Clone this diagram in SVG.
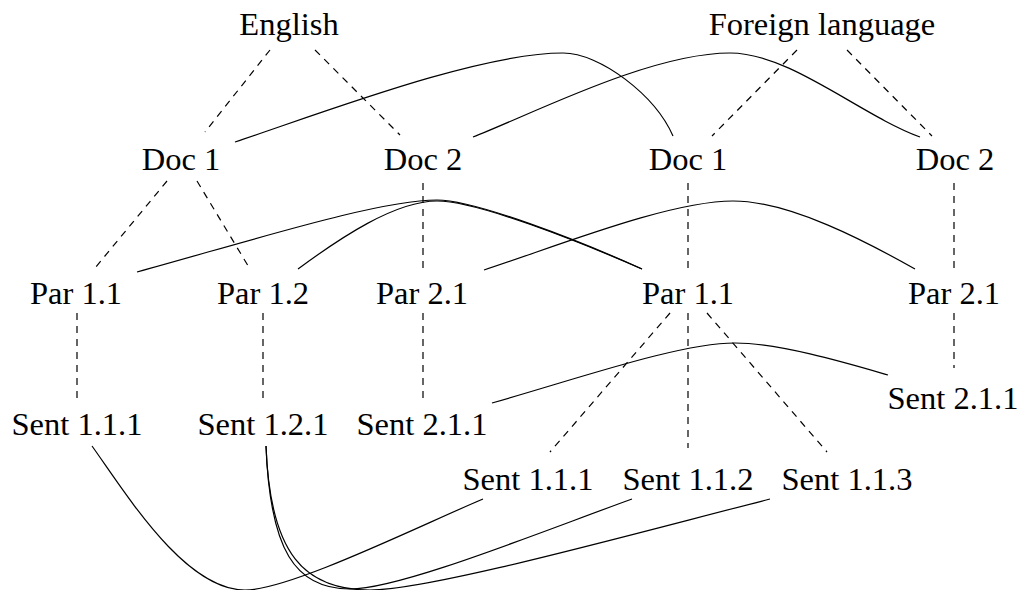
<svg xmlns="http://www.w3.org/2000/svg" width="1019" height="590" viewBox="0 0 1019 590">
<style>
text { font-family: "Liberation Serif", "DejaVu Serif", serif; font-size: 32.5px; fill: #000; text-anchor: middle; }
.tree { stroke: #000; stroke-width: 1.2; stroke-dasharray: 7 6; fill: none; }
.link { stroke: #000; stroke-width: 1.2; fill: none; }
</style>
<rect width="1019" height="590" fill="#fff"/>
<g id="connectors">
  <g id="tree-edges">
    <line class="tree" x1="270" y1="50" x2="205" y2="132"/>
    <line class="tree" x1="315" y1="50" x2="400" y2="135"/>
    <line class="tree" x1="797" y1="50" x2="712" y2="136"/>
    <line class="tree" x1="847" y1="50" x2="932" y2="136"/>
    <line class="tree" x1="167" y1="181" x2="95" y2="268"/>
    <line class="tree" x1="197" y1="181" x2="250" y2="269"/>
    <line class="tree" x1="423" y1="183" x2="423" y2="268"/>
    <line class="tree" x1="688" y1="183" x2="688" y2="268"/>
    <line class="tree" x1="954" y1="183" x2="954" y2="268"/>
    <line class="tree" x1="77" y1="313" x2="77" y2="400"/>
    <line class="tree" x1="263" y1="313" x2="263" y2="400"/>
    <line class="tree" x1="423" y1="313" x2="423" y2="400"/>
    <line class="tree" x1="954" y1="313" x2="954" y2="368"/>
    <line class="tree" x1="670" y1="313" x2="550" y2="452"/>
    <line class="tree" x1="688" y1="313" x2="688" y2="448"/>
    <line class="tree" x1="707" y1="313" x2="827" y2="452"/>
  </g>
  <g id="alignment-links">
    <path class="link" d="M235,142 C330,110 480,53 563,53 C600,53 655,95 673,136"/>
    <path class="link" d="M473,137 C530,115 650,53 730,53 C790,53 860,115 920,137"/>
    <path class="link" d="M137,272 C260,238 380,200 437,200 C475,200 578,240 642,269"/>
    <path class="link" d="M298,269 C340,238 395,201 437,201 C477,201 578,241 642,269"/>
    <path class="link" d="M484,270 C560,245 670,201 733,201 C790,201 867,242 915,269"/>
    <path class="link" d="M492,403 C580,378 680,343 735,343 C780,343 850,364 888,375"/>
    <path class="link" d="M92,446 C127,495 185,590 245,590 C290,590 419,526 483,499"/>
    <path class="link" d="M266,446 C270,550 295,589 350,589 C400,589 538,533 632,499"/>
    <path class="link" d="M266,446 C270,555 305,590 370,590 C430,590 625,536 770,499"/>
  </g>
</g>
<g id="en"><text x="289" y="35">English</text></g>
<g id="fl"><text x="822" y="35">Foreign language</text></g>
<g id="en-doc1"><text x="181" y="170">Doc 1</text></g>
<g id="en-doc2"><text x="423" y="170">Doc 2</text></g>
<g id="fl-doc1"><text x="688" y="170">Doc 1</text></g>
<g id="fl-doc2"><text x="955" y="170">Doc 2</text></g>
<g id="en-par11"><text x="76" y="304">Par 1.1</text></g>
<g id="en-par12"><text x="263" y="304">Par 1.2</text></g>
<g id="en-par21"><text x="422" y="304">Par 2.1</text></g>
<g id="fl-par11"><text x="688" y="304">Par 1.1</text></g>
<g id="fl-par21"><text x="954" y="304">Par 2.1</text></g>
<g id="en-sent111"><text x="77" y="435">Sent 1.1.1</text></g>
<g id="en-sent121"><text x="263" y="435">Sent 1.2.1</text></g>
<g id="en-sent211"><text x="422" y="435">Sent 2.1.1</text></g>
<g id="fl-sent211"><text x="953" y="409">Sent 2.1.1</text></g>
<g id="fl-sent111"><text x="528" y="490">Sent 1.1.1</text></g>
<g id="fl-sent112"><text x="688" y="490">Sent 1.1.2</text></g>
<g id="fl-sent113"><text x="847" y="490">Sent 1.1.3</text></g>
</svg>
